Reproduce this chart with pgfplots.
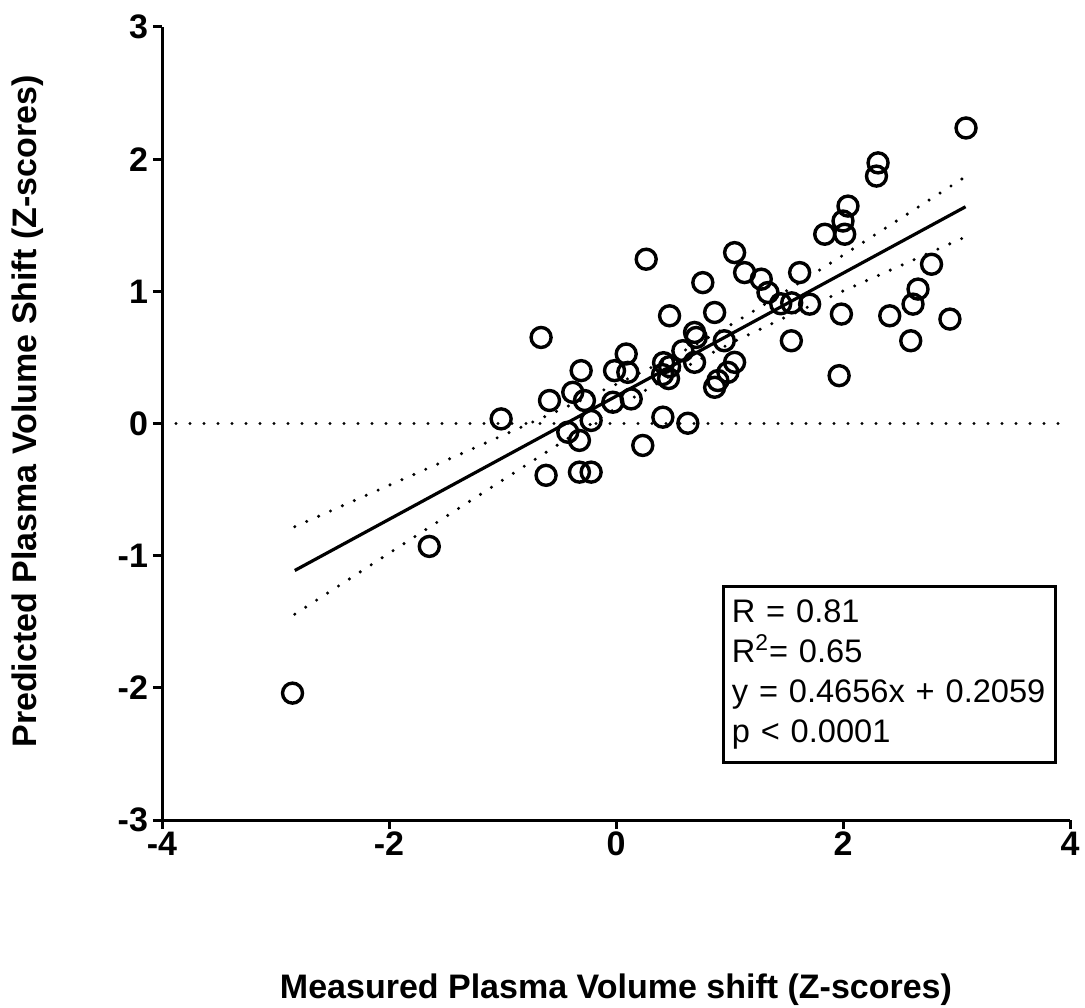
\documentclass[border=0pt]{standalone}
\usepackage{fontspec}
\setmainfont{Liberation Sans}
\usepackage{pgfplots}
\pgfplotsset{compat=1.18}

\pgfplotstableread{
x y
3.084 2.236
2.309 1.972
2.295 1.872
2.044 1.645
2.000 1.532
2.015 1.432
1.839 1.432
1.045 1.293
0.266 1.243
1.133 1.142
1.618 1.142
1.280 1.092
0.765 1.066
1.339 0.991
1.451 0.906
1.548 0.913
2.780 1.205
2.661 1.017
2.617 0.903
1.706 0.903
1.986 0.828
2.412 0.815
2.942 0.790
1.545 0.626
2.597 0.626
-0.660 0.651
0.472 0.815
0.869 0.840
0.692 0.689
0.707 0.651
0.954 0.626
0.090 0.526
-0.307 0.400
-0.013 0.400
0.104 0.387
0.419 0.460
0.472 0.430
0.410 0.370
0.463 0.340
0.589 0.551
0.692 0.463
1.045 0.463
0.986 0.387
0.898 0.325
0.869 0.274
1.966 0.362
-0.381 0.236
-0.586 0.174
-0.278 0.174
-0.028 0.161
0.134 0.186
-1.012 0.035
0.413 0.048
0.633 0.002
-0.219 0.023
-0.425 -0.066
-0.322 -0.128
0.236 -0.166
-0.616 -0.392
-0.322 -0.368
-0.219 -0.368
-1.645 -0.930
-2.850 -2.040
}\pts

\pgfplotstableread{
x lo up
-2.83 -1.443 -0.781
-2.50 -1.260 -0.656
-2.00 -0.982 -0.468
-1.50 -0.705 -0.280
-1.00 -0.429 -0.091
-0.50 -0.154 0.101
0.00 0.116 0.296
0.35 0.298 0.440
0.70 0.469 0.595
1.05 0.624 0.766
1.50 0.807 1.002
2.00 1.002 1.273
2.50 1.192 1.548
3.08 1.412 1.868
}\band

\begin{document}
\begin{tikzpicture}
\begin{axis}[
  at={(81pt,93.5pt)}, anchor=south west,
  width=454pt, height=396.5pt, scale only axis,
  xmin=-4, xmax=4, ymin=-3, ymax=3,
  axis x line=bottom, axis y line=left,
  axis line style={-, line width=1.5pt},
  xtick={-4,-2,0,2,4}, xticklabels={-4,-2,0,2,4},
  ytick={-3,-2,-1,0,1,2,3}, yticklabels={-3,-2,-1,0,1,2,3},
  tick align=outside, major tick length=4.5pt,
  tick style={line width=1.5pt, black},
  ticklabel style={font=\fontsize{17}{20}\selectfont\bfseries},
  xticklabel style={yshift=2pt},
  yticklabel style={xshift=1pt},
  xlabel={Measured Plasma Volume shift (Z-scores)},
  ylabel={Predicted Plasma Volume Shift (Z-scores)},
  label style={font=\fontsize{17}{20}\selectfont\bfseries},
  xlabel style={at={(axis description cs:0.5,-0.214)}, anchor=center},
  ylabel style={at={(axis description cs:-0.148,0.515)}, anchor=center},
  clip=false,
]
\addplot[black, line width=1.7pt, line cap=round, dash pattern=on 0pt off 7pt]
  coordinates {(-4,0)(4,0)};
\addplot[black, line width=1.7pt, line cap=round, dash pattern=on 0pt off 6.5pt]
  table[x=x, y=up] {\band};
\addplot[black, line width=1.7pt, line cap=round, dash pattern=on 0pt off 6.5pt]
  table[x=x, y=lo] {\band};
\addplot[black, line width=1.6pt] coordinates {(-2.83,-1.112)(3.08,1.640)};
\addplot[only marks, mark=o, mark size=5pt, mark options={line width=1.7pt, black}]
  table[x=x, y=y] {\pts};
\node[draw, line width=1.5pt, anchor=north west, align=left,
      minimum width=163pt, minimum height=88pt, text width=158pt,
      inner xsep=4pt, inner ysep=5pt,
      font=\fontsize{16.3}{20}\selectfont]
  at (axis cs:0.937,-1.223)
  {R = 0.81\\R\textsuperscript{2}= 0.65\\y = 0.4656x + 0.2059\\p < 0.0001};
\end{axis}
\pgfresetboundingbox
\path[use as bounding box] (0,0) rectangle (542.5pt,503.5pt);
\end{tikzpicture}
\end{document}
